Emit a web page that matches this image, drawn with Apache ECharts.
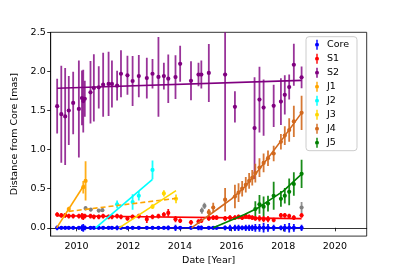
<!DOCTYPE html>
<html><head><meta charset="utf-8">
<script src="https://cdn.jsdelivr.net/npm/echarts@6/dist/echarts.min.js"></script>
<style>html,body{margin:0;padding:0;background:#fff}#c{width:407px;height:271px}</style>
</head><body><div id="c"></div>
<script>
// ---- data (dates in decimal years, distances in mas) ----
const epochs = [2009.25,2009.41,2009.56,2009.70,2009.87,2010.09,2010.21,2010.26,2010.32,2010.54,
  2010.67,2010.86,2011.03,2011.24,2011.37,2011.57,2011.72,2011.97,2012.17,2012.41,
  2012.72,2012.94,2013.17,2013.38,2013.55,2013.83,2014.01,2014.43,2014.72,2014.83,
  2015.12,2015.29,2015.42,2015.75,2015.94,2016.13,2016.27,2016.41,2016.55,2016.68,
  2016.80,2016.92,2017.08,2017.24,2017.41,2017.63,2017.91,2018.06,2018.23,2018.41,2018.71];
const coreVals = [0,0,0,0,0,0,0,0,0,0, 0,0,0,0,0,0,0,0,0,0, 0,0,0,0,0,0,0,0,0,0,
  0,0,0,0,0,0,0,0,0,0, 0,0,0,0,0,0,0,0,0,0,0];
const coreErr = [0.03,0.02,0.02,0.02,0.02,0.02,0.04,0.05,0.03,0.02,
  0.02,0.02,0.02,0.02,0.02,0.03,0.02,0.02,0.02,0.02,
  0.02,0.02,0.02,0.02,0.03,0.04,0.02,0.02,0.03,0.03,
  0.02,0.02,0.02,0.03,0.04,0.04,0.04,0.03,0.04,0.04,
  0.04,0.05,0.05,0.06,0.05,0.04,0.03,0.05,0.06,0.05,0.04];
const s1Vals = [0.17,0.16,0.16,0.15,0.15,0.15,0.15,0.14,0.15,0.15,
  0.14,0.14,0.15,0.14,0.14,0.15,0.14,0.12,0.14,0.15,
  0.11,0.14,0.15,0.17,0.19,0.11,0.09,0.07,0.08,0.09,
  0.12,0.13,0.13,0.12,0.13,0.13,0.14,0.13,0.15,0.14,
  0.13,0.12,0.12,0.11,0.11,0.10,0.16,0.16,0.15,0.13,0.16];
const s1Err = [0.03,0.03,0.03,0.03,0.03,0.03,0.04,0.04,0.03,0.03,
  0.03,0.03,0.03,0.03,0.03,0.03,0.03,0.03,0.03,0.03,
  0.05,0.03,0.03,0.03,0.05,0.04,0.03,0.03,0.03,0.03,
  0.03,0.03,0.03,0.03,0.03,0.03,0.03,0.03,0.03,0.03,
  0.03,0.03,0.04,0.04,0.04,0.03,0.03,0.03,0.03,0.03,0.03];
const s2Dates = [2009.25,2009.41,2009.56,2009.70,2009.87,2010.09,2010.21,2010.26,2010.32,2010.54,
  2010.67,2010.86,2011.03,2011.24,2011.37,2011.57,2011.72,2011.97,2012.17,2012.41,
  2012.72,2012.94,2013.17,2013.38,2013.55,2013.83,2014.01,2014.43,2014.72,2014.83,
  2015.12,2015.75,2016.13,2016.89,2017.08,2017.24,2017.63,2017.91,2018.06,2018.23,2018.41,2018.71];
const s2Vals = [1.555,1.453,1.424,1.50,1.597,1.52,1.66,1.62,1.65,1.733,
  1.788,1.797,1.83,1.84,1.84,1.818,1.97,1.95,1.877,1.94,
  1.915,1.97,1.93,1.94,1.907,1.928,2.097,1.88,1.96,1.96,
  1.98,1.96,1.547,1.275,1.64,1.538,1.56,1.614,1.70,1.80,2.085,1.924];
const s2Err = [0.35,0.62,0.62,0.44,0.40,0.62,0.35,0.40,0.23,0.40,
  0.43,0.27,0.41,0.41,0.30,0.19,0.30,0.25,0.32,0.27,
  0.26,0.19,0.51,0.17,0.31,0.28,0.23,0.25,0.15,0.18,
  0.37,1.10,0.20,0.65,0.42,0.36,0.27,0.30,0.25,0.16,0.27,0.14];
const j1Dates = [2009.70,2010.26,2010.35];
const j1Vals = [0.24,0.52,0.60];
const j1Err = [0.03,0.08,0.25];
const j2Dates = [2011.57,2012.17,2012.41,2012.94];
const j2Vals = [0.30,0.33,0.41,0.74];
const j2Err = [0.05,0.10,0.06,0.12];
const j3Dates = [2012.94,2013.38,2013.85];
const j3Vals = [0.27,0.44,0.37];
const j3Err = [0.03,0.04,0.055];
const j4Dates = [2015.12,2015.29,2015.75,2016.13,2016.27,2016.41,2016.55,2016.68,2016.80,2016.92,
  2017.08,2017.24,2017.41,2017.63,2017.91,2018.06,2018.23,2018.41,2018.71];
const j4Vals = [0.20,0.26,0.36,0.40,0.45,0.50,0.55,0.60,0.64,0.70,
  0.77,0.83,0.89,0.95,1.10,1.18,1.25,1.36,1.47];
const j4Err = [0.04,0.06,0.15,0.15,0.12,0.10,0.10,0.10,0.10,0.12,
  0.12,0.12,0.10,0.10,0.10,0.12,0.15,0.20,0.22];
const j5Dates = [2016.92,2017.08,2017.24,2017.41,2017.63,2017.91,2018.06,2018.23,2018.41,2018.71];
const j5Vals = [0.24,0.30,0.27,0.31,0.41,0.37,0.41,0.46,0.56,0.69];
const j5Err = [0.10,0.12,0.13,0.10,0.18,0.10,0.10,0.17,0.15,0.18];
const grayDates = [2010.35,2010.55,2010.86,2011.00,2014.85,2014.95,2018.71];
const grayVals = [0.25,0.233,0.22,0.225,0.22,0.28,0.26];
const grayErr = [0.03,0.02,0.02,0.02,0.04,0.04,0.07];
// fitted curves
const coreFit = [[2009.25,0],[2018.71,0]];
const s1Fit = [[2009.25,0.155],[2018.71,0.118]];
const s2Fit = [[2009.25,1.785],[2018.71,1.885]];
const j1Fit = [[2009.23,0],[2010.30,0.55]];
const j1Dash = [[2009.70,0.21],[2013.87,0.377]];
const j2Fit = [[2010.74,0],[2012.94,0.62]];
const j3Fit = [[2011.65,0],[2013.85,0.475]];
const j4Fit = [[2014.45,0],[2015.0,0.13],[2015.5,0.25],[2016.0,0.37],[2016.5,0.52],[2017.0,0.72],[2017.5,0.93],[2018.0,1.15],[2018.71,1.47]];
const j5Fit = [[2015.29,0],[2016.0,0.1],[2016.5,0.17],[2017.0,0.25],[2017.5,0.36],[2018.0,0.47],[2018.71,0.686]];
const xTicks = [2010,2012,2014,2016,2018,2020];
const yTicks = [0,0.5,1,1.5,2,2.5];

// ---- chart ----
const FONT = 'DejaVu Sans';
function zip(d, v, e) { return d.map((x, i) => [x, v[i], e[i]]); }
function errSeries(name, color, d, v, e, barOpacity) {
  return {
    name: name, type: 'custom', clip: true,
    itemStyle: { color: color },
    data: zip(d, v, e),
    renderItem: function (params, api) {
      const x = api.value(0), y = api.value(1), er = api.value(2);
      const t = api.coord([x, y + er]), b = api.coord([x, y - er]), c = api.coord([x, y]);
      return { type: 'group', children: [
        { type: 'line', shape: { x1: t[0], y1: t[1], x2: b[0], y2: b[1] },
          style: { stroke: color, lineWidth: 1.8, opacity: barOpacity } },
        { type: 'circle', shape: { cx: c[0], cy: c[1], r: 2.1 }, style: { fill: color } }
      ] };
    }
  };
}
function fitSeries(name, color, data, dashed) {
  return { name: name, type: 'line', data: data, showSymbol: false, symbol: 'none',
    silent: true, z: 3,
    lineStyle: { color: color, width: 1.6, type: dashed ? [5, 3] : 'solid' } };
}
const C = { core: '#0000ff', s1: '#ff0000', s2: '#800080', j1: '#ffa500', j2: '#00ffff',
  j3: '#ffd700', j4: '#d2691e', j5: '#008000', gray: '#808080' };
const icon = 'path://M2.3,0h1.4v10h-1.4z M3,3a2,2 0 1 1 0,4a2,2 0 1 1 0,-4z';

const chart = echarts.init(document.getElementById('c'), null, { renderer: 'canvas' });
chart.setOption({
  animation: false,
  textStyle: { fontFamily: FONT },
  grid: { left: 50.7, right: 40.3, top: 32.3, bottom: 33.7, show: true,
    borderColor: '#000', borderWidth: 0.8, backgroundColor: 'transparent' },
  xAxis: {
    type: 'value', min: 2009.0, max: 2021.23,
    name: 'Date [Year]', nameLocation: 'middle', nameGap: 18,
    nameTextStyle: { color: '#000', fontSize: 9.5, fontFamily: FONT },
    axisLine: { show: true, lineStyle: { color: '#000', width: 0.8 } },
    axisTick: { show: true, inside: false, length: 3.5, customValues: xTicks, lineStyle: { color: '#000', width: 0.8 } },
    axisLabel: { customValues: xTicks, color: '#000', fontSize: 9.5, margin: 5, fontFamily: FONT,
      formatter: v => String(v) },
    splitLine: { show: false }
  },
  yAxis: {
    type: 'value', min: -0.106, max: 2.5,
    name: 'Distance from Core [mas]', nameLocation: 'middle', nameGap: 25,
    nameTextStyle: { color: '#000', fontSize: 9.5, fontFamily: FONT },
    axisLine: { show: true, lineStyle: { color: '#000', width: 0.8 } },
    axisTick: { show: true, inside: false, length: 3.5, customValues: yTicks, lineStyle: { color: '#000', width: 0.8 } },
    axisLabel: { customValues: yTicks, color: '#000', fontSize: 9.5, margin: 5, fontFamily: FONT,
      formatter: v => v.toFixed(1) },
    splitLine: { show: false }
  },
  legend: {
    data: ['Core','S1','S2','J1','J2','J3','J4','J5'].map(n => ({ name: n, icon: icon })),
    orient: 'vertical', left: 306, top: 36.7,
    itemWidth: 6, itemHeight: 10, itemGap: 4,
    padding: [3, 8, 3, 9],
    backgroundColor: '#fff', borderColor: '#cccccc', borderWidth: 1, borderRadius: 3,
    textStyle: { color: '#000', fontSize: 9.5, fontFamily: FONT, padding: [0, 0, 0, 2] },
    selectedMode: false
  },
  series: [
    errSeries('S2', C.s2, s2Dates, s2Vals, s2Err, 0.8),
    errSeries('other', C.gray, grayDates, grayVals, grayErr, 0.85),
    errSeries('J1', C.j1, j1Dates, j1Vals, j1Err, 0.9),
    errSeries('J2', C.j2, j2Dates, j2Vals, j2Err, 0.9),
    errSeries('J3', C.j3, j3Dates, j3Vals, j3Err, 0.9),
    errSeries('J4', C.j4, j4Dates, j4Vals, j4Err, 0.9),
    errSeries('J5', C.j5, j5Dates, j5Vals, j5Err, 0.9),
    errSeries('S1', C.s1, epochs, s1Vals, s1Err, 0.95),
    errSeries('Core', C.core, epochs, coreVals, coreErr, 0.95),
    fitSeries('S2 fit', C.s2, s2Fit),
    fitSeries('S1 fit', C.s1, s1Fit),
    fitSeries('Core fit', C.core, coreFit),
    fitSeries('J1 fit', C.j1, j1Fit),
    fitSeries('J1 dash', C.j1, j1Dash, true),
    fitSeries('J2 fit', C.j2, j2Fit),
    fitSeries('J3 fit', C.j3, j3Fit),
    fitSeries('J4 fit', C.j4, j4Fit),
    fitSeries('J5 fit', C.j5, j5Fit)
  ]
});
</script></body></html>
